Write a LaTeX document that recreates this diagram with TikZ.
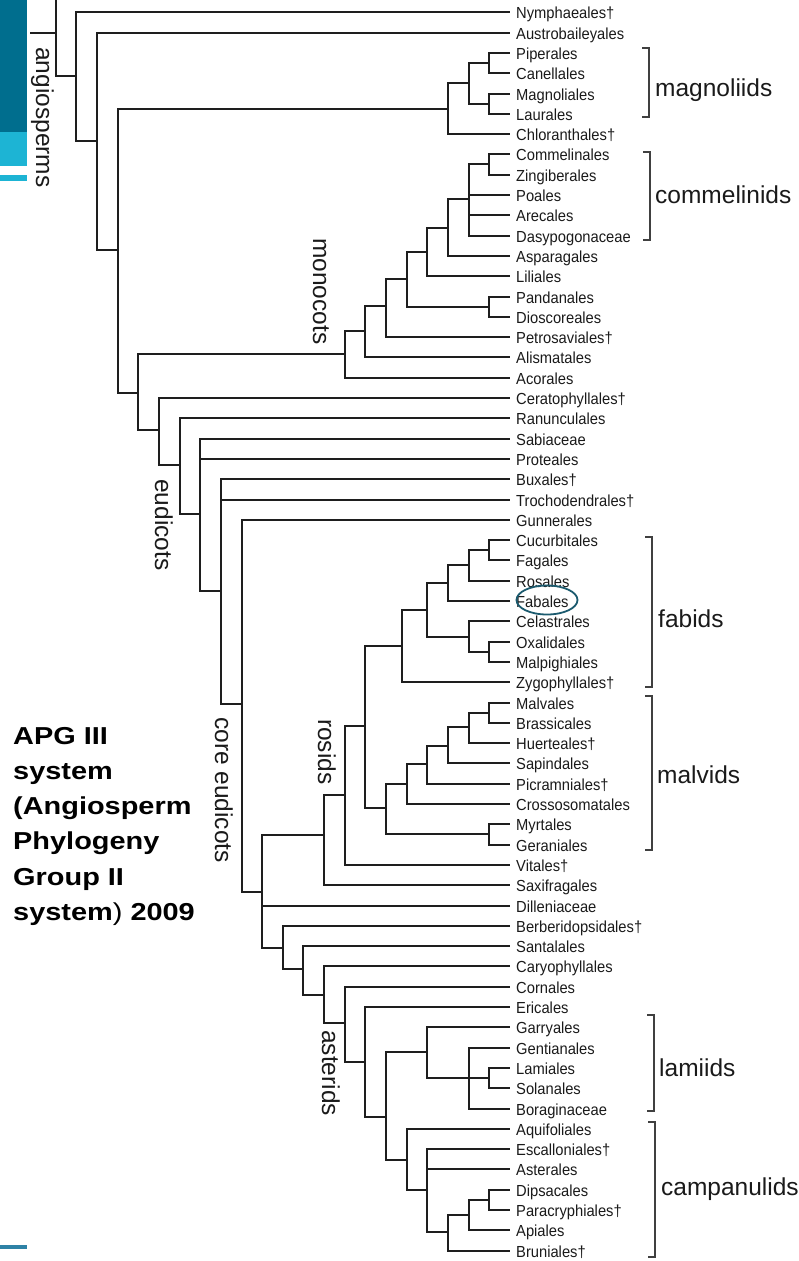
\documentclass[tikz,border=0pt]{standalone}
\usepackage{fontspec}
\setmainfont{Liberation Sans}
\newfontfamily\leaffont[FakeStretch=0.92]{Liberation Sans}
\newfontfamily\ttlfont[FakeStretch=1.18]{Liberation Sans}
\usetikzlibrary{shapes.geometric}
\definecolor{lineblk}{HTML}{1E1E1E}
\definecolor{txtblk}{HTML}{1A1A1A}
\definecolor{tealdark}{HTML}{006E8E}
\definecolor{teallight}{HTML}{1DB4D4}
\definecolor{tealline}{HTML}{2E82A6}
\definecolor{ringcol}{HTML}{1B5A6E}
\begin{document}
\begin{tikzpicture}[x=1pt,y=-1pt,
  br/.style={draw=lineblk, line width=2pt},
  leaf/.style={anchor=base west, inner sep=0pt, text=txtblk, font=\leaffont\fontsize{16}{19}\selectfont},
  clade/.style={anchor=base west, inner sep=0pt, text=txtblk, font=\fontsize{24.5}{29}\selectfont},
  vclade/.style={clade, rotate=-90},
  brk/.style={draw=lineblk!85, line width=2pt},
  ttl/.style={anchor=base west, inner sep=0pt, text=black, font=\ttlfont\bfseries\fontsize{24.5}{30}\selectfont}]
\useasboundingbox (0,0) rectangle (798,1261);

% left decorations
\fill[tealdark] (0,0) rectangle (26.7,131.7);
\fill[teallight] (0,131.7) rectangle (26.7,165.7);
\fill[teallight] (0,175) rectangle (26.7,181);
\fill[tealline] (0,1245) rectangle (26.7,1248.5);

% leaves
\coordinate (L0) at (510,-8);
\foreach \n [count=\i] in {Nymphaeales†,Austrobaileyales,Piperales,Canellales,Magnoliales,Laurales,Chloranthales†,Commelinales,Zingiberales,Poales,Arecales,Dasypogonaceae,Asparagales,Liliales,Pandanales,Dioscoreales,Petrosaviales†,Alismatales,Acorales,Ceratophyllales†,Ranunculales,Sabiaceae,Proteales,Buxales†,Trochodendrales†,Gunnerales,Cucurbitales,Fagales,Rosales,Fabales,Celastrales,Oxalidales,Malpighiales,Zygophyllales†,Malvales,Brassicales,Huerteales†,Sapindales,Picramniales†,Crossosomatales,Myrtales,Geraniales,Vitales†,Saxifragales,Dilleniaceae,Berberidopsidales†,Santalales,Caryophyllales,Cornales,Ericales,Garryales,Gentianales,Lamiales,Solanales,Boraginaceae,Aquifoliales,Escalloniales†,Asterales,Dipsacales,Paracryphiales†,Apiales,Bruniales†}{
  \pgfmathsetmacro\yy{round(12.3+20.3*(\i-1))}
  \coordinate (L\i) at (510,\yy);
  \node[leaf] (T\i) at (516,\yy+6) {\n};
}

% internal nodes
\coordinate (root) at (30,33);
\coordinate (R0) at (56,33);
\coordinate (N1) at (76,76);
\coordinate (N2) at (97,141);
\coordinate (N3) at (118,250);
\coordinate (M0) at (448,109);
\coordinate (M1) at (469,83);
\coordinate (M2) at (489,63);
\coordinate (M3) at (489,104);
\coordinate (N4) at (138,393);
\coordinate (Mo0) at (345,354);
\coordinate (Mo1) at (365,331);
\coordinate (Mo2) at (386,306);
\coordinate (Mo3) at (407,279);
\coordinate (Mo4) at (427,252);
\coordinate (Mo5) at (448,228);
\coordinate (Mo6) at (469,199);
\coordinate (C1) at (489,164);
\coordinate (Mo7) at (489,307);
\coordinate (N5) at (159,430);
\coordinate (N6) at (180,465);
\coordinate (N7) at (200,514);
\coordinate (N8) at (221,591);
\coordinate (N9) at (242,704);
\coordinate (N10) at (262,892);
\coordinate (R1) at (324,835);
\coordinate (R2) at (345,795);
\coordinate (R3) at (365,726);
\coordinate (F0) at (402,646);
\coordinate (F1) at (427,610);
\coordinate (F2) at (448,583);
\coordinate (F3) at (469,565);
\coordinate (F4) at (489,550);
\coordinate (F5) at (469,637);
\coordinate (F6) at (489,652);
\coordinate (R4) at (386,808);
\coordinate (V0) at (407,784);
\coordinate (V1) at (427,764);
\coordinate (V2) at (448,746);
\coordinate (V3) at (469,727);
\coordinate (V4) at (489,713);
\coordinate (MG) at (489,834);
\coordinate (A0) at (283,948);
\coordinate (A1) at (303,969);
\coordinate (A2) at (324,995);
\coordinate (A3) at (345,1023);
\coordinate (A4) at (365,1062);
\coordinate (A5) at (386,1117);
\coordinate (La0) at (427,1052);
\coordinate (La1) at (469,1078);
\coordinate (La2) at (489,1078);
\coordinate (Ca0) at (407,1160);
\coordinate (Ca1) at (427,1190);
\coordinate (Ca2) at (448,1232);
\coordinate (Ca3) at (469,1215);
\coordinate (Ca4) at (489,1200);

% branches
\draw[br] (root) -- (R0);
\foreach \p/\c in {R0/L0,R0/N1,N1/L1,N1/N2,N2/L2,N2/N3,N3/M0,N3/N4,
  M0/M1,M0/L7,M1/M2,M1/M3,M2/L3,M2/L4,M3/L5,M3/L6,
  N4/Mo0,N4/N5,Mo0/Mo1,Mo0/L19,Mo1/Mo2,Mo1/L18,Mo2/Mo3,Mo2/L17,Mo3/Mo4,Mo3/Mo7,
  Mo4/Mo5,Mo4/L14,Mo5/Mo6,Mo5/L13,Mo6/C1,Mo6/L10,Mo6/L11,Mo6/L12,C1/L8,C1/L9,Mo7/L15,Mo7/L16,
  N5/L20,N5/N6,N6/L21,N6/N7,N7/L22,N7/L23,N7/N8,N8/L24,N8/L25,N8/N9,N9/L26,N9/N10,
  N10/R1,N10/L45,N10/A0,R1/R2,R1/L44,R2/R3,R2/L43,R3/F0,R3/R4,
  F0/F1,F0/L34,F1/F2,F1/F5,F2/F3,F2/L30,F3/F4,F3/L29,F4/L27,F4/L28,F5/L31,F5/F6,F6/L32,F6/L33,
  R4/V0,R4/MG,V0/V1,V0/L40,V1/V2,V1/L39,V2/V3,V2/L38,V3/V4,V3/L37,V4/L35,V4/L36,MG/L41,MG/L42,
  A0/L46,A0/A1,A1/L47,A1/A2,A2/L48,A2/A3,A3/L49,A3/A4,A4/L50,A4/A5,A5/La0,A5/Ca0,
  La0/L51,La0/La1,La1/L52,La1/La2,La1/L55,La2/L53,La2/L54,
  Ca0/L56,Ca0/Ca1,Ca1/L57,Ca1/L58,Ca1/Ca2,Ca2/Ca3,Ca2/L62,Ca3/Ca4,Ca3/L61,Ca4/L59,Ca4/L60}
  {\draw[br] (\p) |- (\c);}

% brackets
\draw[brk] (642,48) -- (649,48) -- (649,117) -- (642,117);
\draw[brk] (643,152) -- (650,152) -- (650,240) -- (643,240);
\draw[brk] (645,537) -- (652,537) -- (652,687) -- (645,687);
\draw[brk] (645,696) -- (652,696) -- (652,850) -- (645,850);
\draw[brk] (647,1015) -- (654,1015) -- (654,1111) -- (647,1111);
\draw[brk] (648,1122) -- (655,1122) -- (655,1257) -- (648,1257);

% clade labels
\node[clade] (magn) at (655,96) {magnoliids};
\node[clade] (comm) at (655,203) {commelinids};
\node[clade] (fabi) at (658,627) {fabids};
\node[clade] (malv) at (657,783) {malvids};
\node[clade] (lami) at (659,1076) {lamiids};
\node[clade] (camp) at (661,1195) {campanulids};

\node[vclade] (angio) at (36,47) {angiosperms};
\node[vclade] (mono) at (313,238) {monocots};
\node[vclade] (eudi) at (155,479) {eudicots};
\node[vclade] (core) at (215,717) {core eudicots};
\node[vclade] (rosi) at (318,719) {rosids};
\node[vclade] (aste) at (322,1030) {asterids};

% Fabales ring
\node[draw=ringcol, line width=1.8pt, ellipse, minimum width=61pt, minimum height=29pt, inner sep=0pt] (ring) at (547,600) {};

% title
\node[ttl] (t1) at (13,744.3) {APG III};
\node[ttl] (t2) at (13,779.5) {system};
\node[ttl] (t3) at (13,814.7) {(Angiosperm};
\node[ttl] (t4) at (13,849.9) {Phylogeny};
\node[ttl] (t5) at (13,885.1) {Group II};
\node[ttl] (t6) at (13,920.3) {system{\mdseries)} 2009};
\end{tikzpicture}
\end{document}
